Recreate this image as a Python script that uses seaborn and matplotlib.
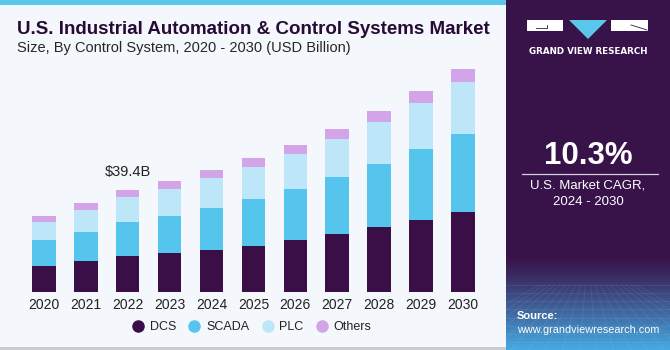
import numpy as np
import pandas as pd
import matplotlib
matplotlib.use("Agg")
import matplotlib.pyplot as plt
from matplotlib.patches import Rectangle, Polygon
from matplotlib.lines import Line2D
import seaborn as sns

years = ["2020", "2021", "2022", "2023", "2024", "2025", "2026", "2027", "2028", "2029", "2030"]
dcs = [10.2, 12.1, 13.9, 15.1, 16.3, 17.9, 20.0, 22.4, 25.0, 27.8, 30.8]
scada = [9.7, 11.2, 13.0, 14.3, 16.2, 17.9, 19.8, 22.0, 24.6, 27.3, 30.4]
plc = [7.3, 8.4, 9.8, 10.4, 11.4, 12.4, 13.5, 14.7, 16.1, 18.0, 19.9]
others = [2.2, 2.8, 2.7, 3.2, 3.2, 3.6, 3.6, 3.9, 4.1, 4.4, 4.9]
series_names = ["DCS", "SCADA", "PLC", "Others"]
colors = ["#3a0f47", "#56c5ee", "#bde7f8", "#d3a5e8"]
annot_label = "$39.4B"
annot_year = "2022"

W, H = 670, 350
fig = plt.figure(figsize=(W / 100, H / 100), dpi=100)
fig.patch.set_facecolor("#f4f7fb")

def px(x0, y0, w, h):
    return [x0 / W, 1 - (y0 + h) / H, w / W, h / H]

# background decorations
bg = fig.add_axes([0, 0, 1, 1], zorder=-5)
bg.set_xlim(0, W); bg.set_ylim(H, 0); bg.axis("off")
bg.add_patch(Rectangle((0, 0), 507, 5, color="#5ac6ea", lw=0))
bg.add_patch(Rectangle((0, 346.5), 507, 3.5, color="#c9ccd2", lw=0))

# main chart
df = pd.DataFrame({"year": years, "DCS": dcs, "SCADA": scada, "PLC": plc, "Others": others})
cum = df[series_names].cumsum(axis=1)
ax = fig.add_axes(px(23, 60, 460.8, 232))
ax.set_facecolor("none")
for name, col in reversed(list(zip(series_names, colors))):
    sns.barplot(x=df["year"], y=cum[name], color=col, width=0.56, ax=ax,
                saturation=1, linewidth=0, edgecolor="none")
ax.set_xlim(-0.5, 10.5)
ax.set_ylim(0, 232 * 39.4 / 102)
ax.set_xlabel(""); ax.set_ylabel("")
ax.set_yticks([])
for s in ax.spines.values():
    s.set_visible(False)
ax.tick_params(axis="x", length=0, pad=4, labelsize=10, labelcolor="#222222")
for t in ax.get_xticklabels():
    t.set_fontfamily("Liberation Sans")
i = years.index(annot_year)
ax.text(i, cum["Others"][i] + 4.2, annot_label, ha="center", va="bottom",
        fontsize=10.5, color="#222222", family="Liberation Sans")

# title
fig.text(17 / W, 1 - 30 / H, "U.S. Industrial Automation & Control Systems Market",
         fontsize=13.5, fontweight="heavy", color="#260b36", va="center", ha="left",
         family="Liberation Sans")
fig.text(17 / W, 1 - 48 / H, "Size, By Control System, 2020 - 2030 (USD Billion)",
         fontsize=10.5, color="#262626", va="center", ha="left", family="Liberation Sans")

# legend
handles = [Line2D([], [], marker="o", ls="", markersize=8, markerfacecolor=c,
                  markeredgecolor=c) for c in colors]
leg = fig.legend(handles, series_names, loc="center", bbox_to_anchor=(251 / W, 1 - 327 / H),
                 ncol=4, frameon=False, handletextpad=0.36, columnspacing=0.85,
                 handlelength=1.2, prop={"family": "Liberation Sans", "size": 9})
for t in leg.get_texts():
    t.set_color("#222222")

# right panel
rp = fig.add_axes(px(506, 0, 164, 350), zorder=2)
rp.set_xlim(0, 164); rp.set_ylim(350, 0); rp.axis("off")
purple = np.array([0x38, 0x13, 0x4a]) / 255
blue = np.array([0x45, 0xa8, 0xe0]) / 255
grad = np.zeros((100, 2, 3))
for k in range(100):
    f = k / 99
    if f < 0.74:
        c = purple
    else:
        g = ((f - 0.74) / 0.26) ** 1.1
        c = purple * (1 - g) + blue * g
    grad[k, :, :] = c
rp.imshow(grad, extent=(0, 164, 350, 0), aspect="auto", interpolation="bilinear", zorder=0)
# faint grid
for yy in np.linspace(285, 350, 9):
    rp.plot([0, 164], [yy, yy], color="white", alpha=0.08, lw=0.6, zorder=1)
for xx in np.linspace(-80, 244, 20):
    rp.plot([82 + (xx - 82) * 0.3, xx], [285, 350], color="white", alpha=0.08, lw=0.6, zorder=1)

# logo
rp.add_patch(Rectangle((21, 20), 36, 11, color="white", lw=0, zorder=3))
rp.plot([30, 41, 41], [28, 28, 25], color="#38134a", lw=0.6, zorder=4)
rp.add_patch(Polygon([(63, 20), (101, 20), (82, 39)], closed=True, color="#5ac6ea", lw=0, zorder=3))
rp.add_patch(Rectangle((105, 20), 37, 11, color="white", lw=0, zorder=3))
rp.plot([125, 141], [25, 30], color="#38134a", lw=0.6, zorder=4)
rp.text(82, 51, "GRAND VIEW RESEARCH", ha="center", va="center", color="white",
        fontsize=6.3, fontweight="bold", family="DejaVu Sans", zorder=3)

rp.text(82, 156, "10.3%", ha="center", va="center", color="white", fontsize=22.5,
        fontweight="bold", family="Liberation Sans", zorder=3)
rp.plot([16, 152], [173.5, 173.5], color="#d8cde0", lw=0.9, zorder=3)
rp.text(82, 186, "U.S. Market CAGR,", ha="center", va="center", color="white",
        fontsize=9.5, family="Liberation Sans", zorder=3)
rp.text(82, 202, "2024 - 2030", ha="center", va="center", color="white",
        fontsize=9.5, family="Liberation Sans", zorder=3)
rp.text(11, 316, "Source:", ha="left", va="center", color="white", fontsize=8,
        fontweight="bold", family="Liberation Sans", zorder=3)
rp.text(11, 330, "www.grandviewresearch.com", ha="left", va="center", color="white",
        fontsize=7.8, family="Liberation Sans", zorder=3)

fig.savefig("out.png", dpi=100, facecolor=fig.get_facecolor())
